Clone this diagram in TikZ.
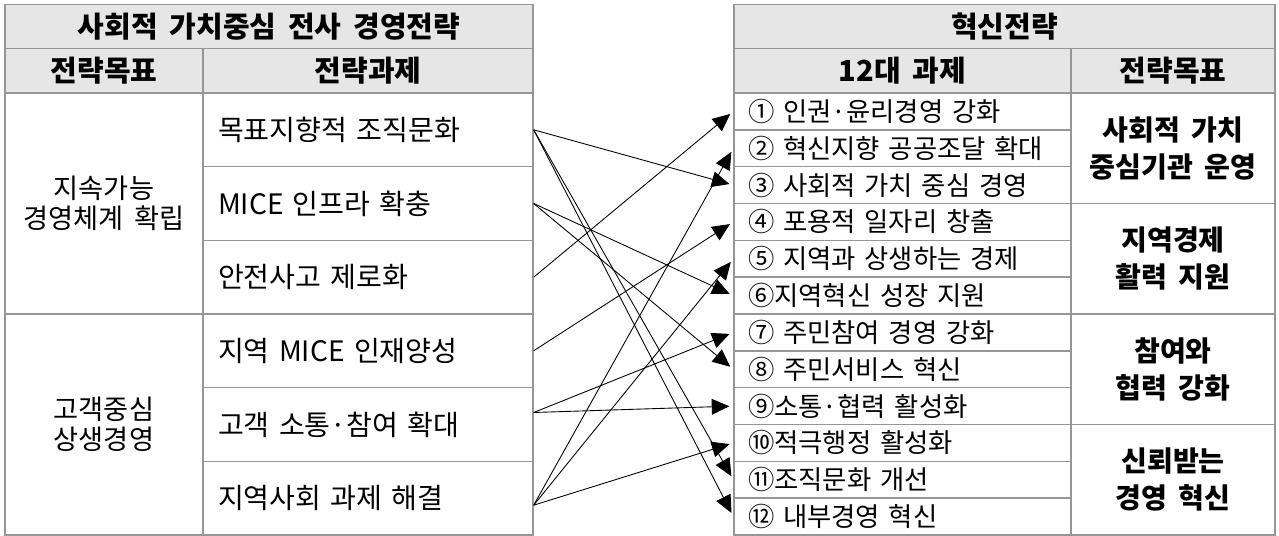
\documentclass[tikz,border=0pt]{standalone}
\usepackage{fontspec}
\setmainfont[WordSpace=1.8]{Noto Sans CJK KR}
\usetikzlibrary{arrows.meta}
\definecolor{rulegray}{RGB}{150,150,150}
\definecolor{headfill}{RGB}{230,230,230}

\begin{document}
\begin{tikzpicture}[
    x=0.02cm, y=-0.02cm,
    cell/.style={rectangle, draw=rulegray, line width=0.8pt, inner sep=0pt, align=center, font=\fontsize{15.5}{17}\selectfont},
    head/.style={cell, fill=headfill, minimum height=0.89cm, font=\bfseries\fontsize{16.5}{19}\selectfont},
    lgoal/.style={cell, minimum width=3.96cm, minimum height=4.42cm},
    ltask/.style={cell, minimum height=1.473cm, text width=6.0cm, inner xsep=0.3cm, align=left, font=\fontsize{16}{18}\selectfont},
    rtask/.style={cell, minimum height=0.7367cm, text width=6.18cm, inner xsep=0.28cm, align=left, font=\fontsize{15}{17}\selectfont},
    rgoal/.style={cell, minimum width=4.08cm, minimum height=2.21cm, font=\bfseries\fontsize{16}{21}\selectfont},
    link/.style={-{Triangle[length=10pt,width=9pt]}, line width=0.5pt, shorten >=0.08cm}
]
\useasboundingbox (0,0) rectangle (1279,536);

% Left table
\node[head, minimum width=10.56cm] (ltitle) at (269, 26.5) {사회적 가치중심 전사 경영전략};
\node[head, minimum width=3.96cm] (lgoalhead) at (104, 71) {전략목표};
\node[head, minimum width=6.6cm] (ltaskhead) at (368, 71) {전략과제};

\node[lgoal] (lgoal1) at (104, 203.5) {지속가능\\경영체계 확립};
\node[lgoal] (lgoal2) at (104, 424.5) {고객중심\\상생경영};

\node[ltask] (l1) at (368, 129.8) {목표지향적 조직문화};
\node[ltask] (l2) at (368, 203.5) {MICE 인프라 확충};
\node[ltask] (l3) at (368, 277.2) {안전사고 제로화};
\node[ltask] (l4) at (368, 350.8) {지역 MICE 인재양성};
\node[ltask] (l5) at (368, 424.5) {고객 소통·참여 확대};
\node[ltask] (l6) at (368, 498.2) {지역사회 과제 해결};

% Right table
\node[head, minimum width=10.82cm] (rtitle) at (1004.5, 26.5) {혁신전략};
\node[head, minimum width=6.74cm] (rtaskhead) at (902.5, 71) {12대 과제};
\node[head, minimum width=4.08cm] (rgoalhead) at (1173, 71) {전략목표};

\node[rtask] (r1) at (902.5, 111.4) {① 인권·윤리경영 강화};
\node[rtask] (r2) at (902.5, 148.3) {② 혁신지향 공공조달 확대};
\node[rtask] (r3) at (902.5, 185.1) {③ 사회적 가치 중심 경영};
\node[rtask] (r4) at (902.5, 221.9) {④ 포용적 일자리 창출};
\node[rtask] (r5) at (902.5, 258.8) {⑤ 지역과 상생하는 경제};
\node[rtask] (r6) at (902.5, 295.6) {⑥지역혁신 성장 지원};
\node[rtask] (r7) at (902.5, 332.4) {⑦ 주민참여 경영 강화};
\node[rtask] (r8) at (902.5, 369.3) {⑧ 주민서비스 혁신};
\node[rtask] (r9) at (902.5, 406.1) {⑨소통·협력 활성화};
\node[rtask] (r10) at (902.5, 442.9) {⑩적극행정 활성화};
\node[rtask] (r11) at (902.5, 479.8) {⑪조직문화 개선};
\node[rtask] (r12) at (902.5, 516.6) {⑫ 내부경영 혁신};

\node[rgoal] (rgoal1) at (1173, 148.25) {사회적 가치\\중심기관 운영};
\node[rgoal] (rgoal2) at (1173, 258.75) {지역경제\\활력 지원};
\node[rgoal] (rgoal3) at (1173, 369.25) {참여와\\협력 강화};
\node[rgoal] (rgoal4) at (1173, 479.75) {신뢰받는\\경영 혁신};

% Links
\draw[link] (l1.east) -- (r3.west);
\draw[link] (l1.east) -- (r11.west);
\draw[link] (l1.east) -- (r12.west);

\draw[link] (l2.east) -- (r6.west);
\draw[link] (l2.east) -- (r8.west);

\draw[link] (l3.east) -- (r1.west);

\draw[link] (l4.east) -- (r4.west);

\draw[link] ([yshift=0.24cm]l5.east) -- (r7.west);
\draw[link] ([yshift=0.24cm]l5.east) -- (r9.west);

\draw[link] ([yshift=-0.14cm]l6.east) -- (r2.west);
\draw[link] ([yshift=-0.14cm]l6.east) -- (r5.west);
\draw[link] ([yshift=-0.14cm]l6.east) -- (r10.west);

\end{tikzpicture}
\end{document}
